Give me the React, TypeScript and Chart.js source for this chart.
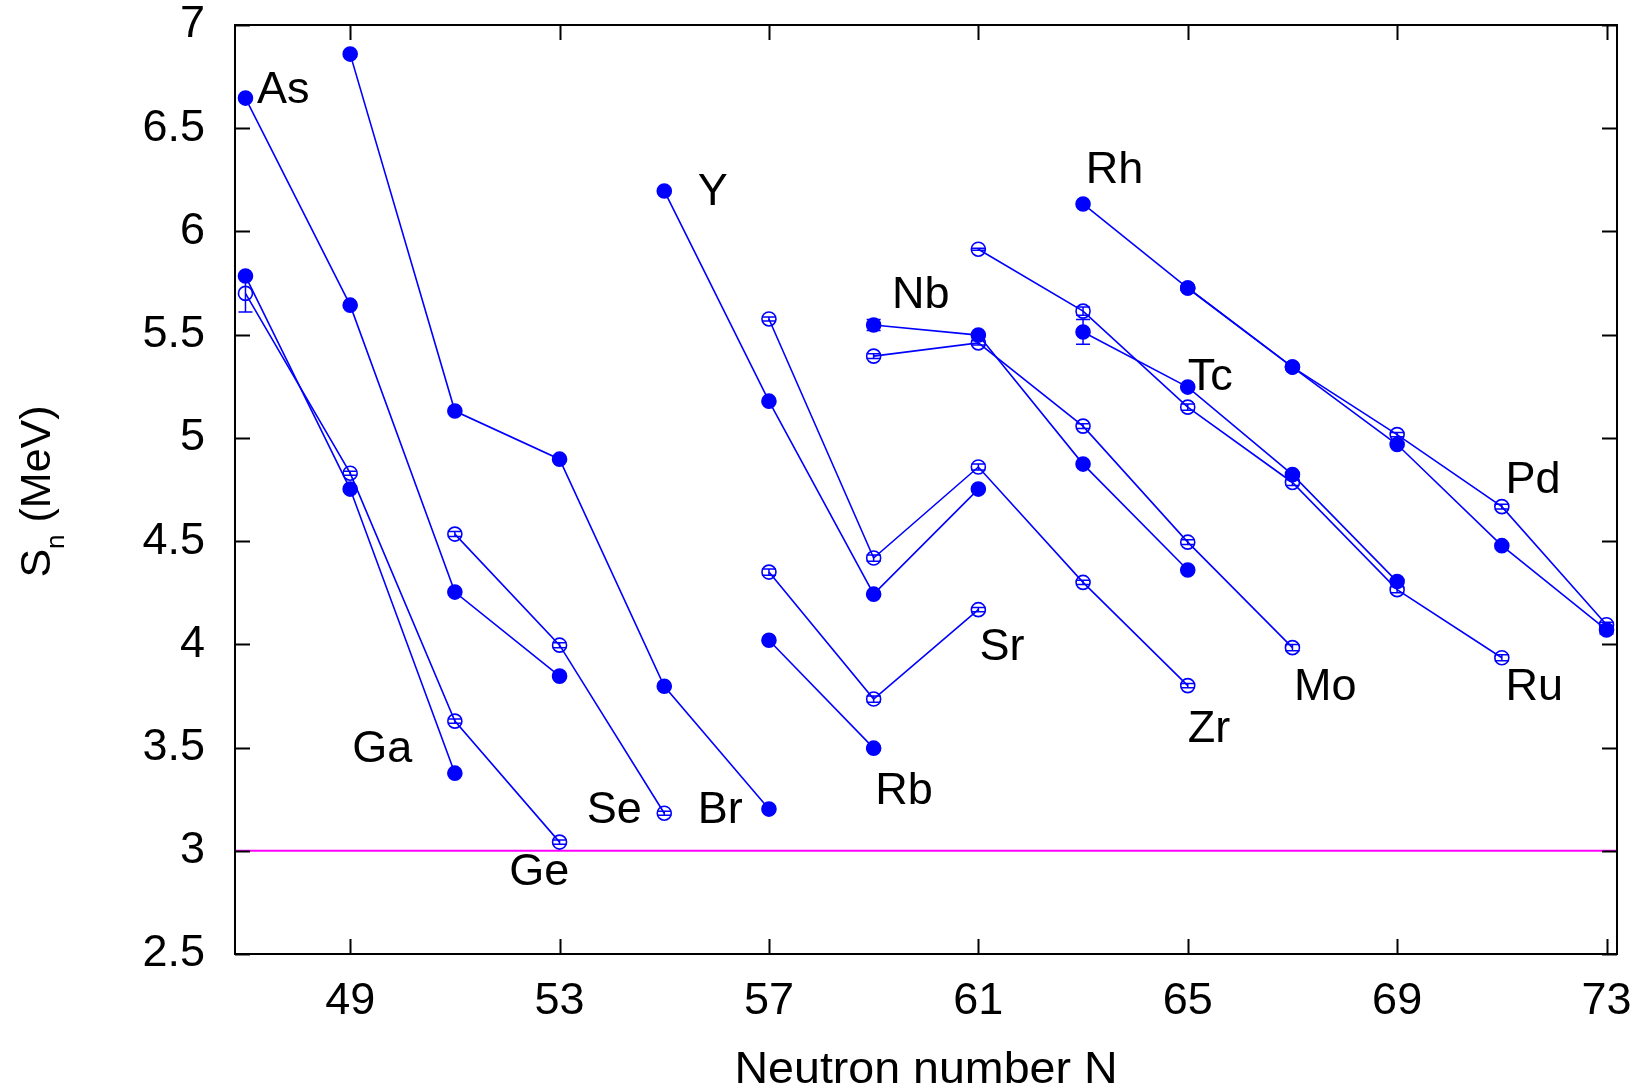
import React, { useEffect, useRef } from 'react';
import { Chart, registerables } from 'chart.js';

Chart.register(...registerables);

// ---- axes ----
const X_MIN = 46.8;
const X_MAX = 73.2;
const Y_MIN = 2.5;
const Y_MAX = 7;
const xTickValues = [49, 53, 57, 61, 65, 69, 73];
const yTickValues = [2.5, 3, 3.5, 4, 4.5, 5, 5.5, 6, 6.5, 7];
const thresholdS = 3.0;

// ---- series: neutron number N, S_n (MeV), error (MeV) ----
// filled symbols
const asN = [47, 49, 51, 53];
const asS = [6.646, 5.643, 4.253, 3.846];
const asErr = [0.005, 0.005, 0.005, 0.005];

const gaN = [47, 49, 51];
const gaS = [5.784, 4.752, 3.376];
const gaErr = [0.005, 0.005, 0.005];

const brN = [49, 51, 53, 55, 57];
const brS = [6.859, 5.130, 4.897, 3.797, 3.202];
const brErr = [0.01, 0.005, 0.005, 0.005, 0.005];

const yN = [55, 57, 59, 61];
const yS = [6.196, 5.178, 4.243, 4.752];
const yErr = [0.01, 0.005, 0.005, 0.005];

const rbN = [57, 59];
const rbS = [4.020, 3.497];
const rbErr = [0.005, 0.005];

const nbN = [59, 61, 63, 65];
const nbS = [5.547, 5.498, 4.873, 4.360];
const nbErr = [0.027, 0.005, 0.005, 0.005];

const tcN = [63, 65, 67, 69];
const tcS = [5.513, 5.246, 4.822, 4.304];
const tcErr = [0.06, 0.005, 0.01, 0.01];

const rhN = [63, 65, 67, 69, 71, 73];
const rhS = [6.133, 5.726, 5.343, 4.968, 4.478, 4.070];
const rhErr = [0.01, 0.01, 0.01, 0.01, 0.01, 0.02];

// open symbols
const geN = [47, 49, 51, 53];
const geS = [5.700, 4.829, 3.628, 3.042];
const geErr = [0.09, 0.01, 0.01, 0.01];

const seN = [51, 53, 55];
const seS = [4.534, 3.996, 3.182];
const seErr = [0.012, 0.012, 0.01];

const srN = [57, 59, 61];
const srS = [4.350, 3.735, 4.168];
const srErr = [0.015, 0.015, 0.01];

const zrN = [57, 59, 61, 63, 65];
const zrS = [5.576, 4.418, 4.859, 4.300, 3.800];
const zrErr = [0.01, 0.015, 0.015, 0.01, 0.01];

const moN = [59, 61, 63, 65, 67];
const moS = [5.396, 5.460, 5.057, 4.495, 3.984];
const moErr = [0.012, 0.01, 0.012, 0.012, 0.015];

const ruN = [61, 63, 65, 67, 69, 71];
const ruS = [5.914, 5.614, 5.149, 4.784, 4.265, 3.935];
const ruErr = [0.005, 0.02, 0.015, 0.015, 0.015, 0.015];

const pdN = [65, 67, 69, 71, 73];
const pdS = [5.726, 5.343, 5.016, 4.667, 4.095];
const pdErr = [0.01, 0.01, 0.01, 0.012, 0.012];

// ---- element labels (text, anchor N, anchor S at baseline) ----
const labelTexts = ['As', 'Ga', 'Ge', 'Se', 'Br', 'Y', 'Rb', 'Sr', 'Nb', 'Zr', 'Rh', 'Tc', 'Mo', 'Pd', 'Ru'];
const labelN = [47.22, 49.04, 52.04, 53.52, 55.64, 55.64, 59.03, 61.02, 59.35, 65.0, 63.05, 65.0, 67.03, 71.07, 71.07];
const labelS = [6.622, 3.429, 2.833, 3.134, 3.134, 6.128, 3.226, 3.923, 5.629, 3.526, 6.234, 5.232, 3.73, 4.733, 3.73];

const xTitle = 'Neutron number N';
const yTitleMain = 'S';
const yTitleSub = 'n';
const yTitleRest = ' (MeV)';

const FONT = '"Liberation Sans", Arial, Helvetica, sans-serif';
const BLUE = '#0000ff';

type Series = { name: string; n: number[]; s: number[]; err: number[]; filled: boolean };

const seriesList: Series[] = [
  { name: 'As', n: asN, s: asS, err: asErr, filled: true },
  { name: 'Ga', n: gaN, s: gaS, err: gaErr, filled: true },
  { name: 'Br', n: brN, s: brS, err: brErr, filled: true },
  { name: 'Y', n: yN, s: yS, err: yErr, filled: true },
  { name: 'Rb', n: rbN, s: rbS, err: rbErr, filled: true },
  { name: 'Nb', n: nbN, s: nbS, err: nbErr, filled: true },
  { name: 'Tc', n: tcN, s: tcS, err: tcErr, filled: true },
  { name: 'Rh', n: rhN, s: rhS, err: rhErr, filled: true },
  { name: 'Ge', n: geN, s: geS, err: geErr, filled: false },
  { name: 'Se', n: seN, s: seS, err: seErr, filled: false },
  { name: 'Sr', n: srN, s: srS, err: srErr, filled: false },
  { name: 'Zr', n: zrN, s: zrS, err: zrErr, filled: false },
  { name: 'Mo', n: moN, s: moS, err: moErr, filled: false },
  { name: 'Ru', n: ruN, s: ruS, err: ruErr, filled: false },
  { name: 'Pd', n: pdN, s: pdS, err: pdErr, filled: false },
];

const framePlugin = {
  id: 'frameAndText',
  afterDatasetsDraw(chart: any) {
    const { ctx, scales } = chart;
    const x = scales.x;
    const y = scales.y;
    ctx.save();
    ctx.strokeStyle = BLUE;
    ctx.lineWidth = 1.5;
    chart.data.datasets.forEach((ds: any) => {
      if (!ds.errors) return;
      ds.data.forEach((p: any, i: number) => {
        const e = ds.errors[i];
        const px = x.getPixelForValue(p.x);
        const y1 = y.getPixelForValue(p.y - e);
        const y2 = y.getPixelForValue(p.y + e);
        ctx.beginPath();
        ctx.moveTo(px, y1);
        ctx.lineTo(px, y2);
        ctx.moveTo(px - 7, y1);
        ctx.lineTo(px + 7, y1);
        ctx.moveTo(px - 7, y2);
        ctx.lineTo(px + 7, y2);
        ctx.stroke();
      });
    });
    ctx.restore();
  },
  afterDraw(chart: any) {
    const { ctx, chartArea, scales } = chart;
    const { left, right, top, bottom } = chartArea;
    const x = scales.x;
    const y = scales.y;
    ctx.save();
    // frame
    ctx.strokeStyle = '#000';
    ctx.lineWidth = 2;
    ctx.strokeRect(left, top, right - left, bottom - top);
    const tl = 15;
    ctx.beginPath();
    xTickValues.forEach((v) => {
      const px = Math.round(x.getPixelForValue(v)) + 0.5;
      ctx.moveTo(px, bottom);
      ctx.lineTo(px, bottom - tl);
      ctx.moveTo(px, top);
      ctx.lineTo(px, top + tl);
    });
    yTickValues.forEach((v) => {
      const py = Math.round(y.getPixelForValue(v)) + 0.5;
      ctx.moveTo(left, py);
      ctx.lineTo(left + tl, py);
      ctx.moveTo(right, py);
      ctx.lineTo(right - tl, py);
    });
    ctx.stroke();

    // element labels
    ctx.fillStyle = '#000';
    ctx.font = `45px ${FONT}`;
    ctx.textAlign = 'left';
    ctx.textBaseline = 'alphabetic';
    labelTexts.forEach((t, i) => {
      ctx.fillText(t, x.getPixelForValue(labelN[i]), y.getPixelForValue(labelS[i]));
    });

    // x title
    ctx.font = `44px ${FONT}`;
    const w = ctx.measureText(xTitle).width;
    const target = 383;
    const cx = (left + right) / 2;
    ctx.save();
    ctx.translate(cx, 1083);
    ctx.scale(target / w, 1);
    ctx.textAlign = 'center';
    ctx.fillText(xTitle, 0, 0);
    ctx.restore();

    // y title (rotated with subscript)
    const mainFont = `43px ${FONT}`;
    const subFont = `26px ${FONT}`;
    ctx.font = mainFont;
    const wS = ctx.measureText(yTitleMain).width;
    const wRest = ctx.measureText(yTitleRest).width;
    ctx.font = subFont;
    const wSub = ctx.measureText(yTitleSub).width;
    const total = wS + wSub + wRest;
    const cy = (top + bottom) / 2 + 2;
    ctx.save();
    ctx.translate(50, cy);
    ctx.rotate(-Math.PI / 2);
    ctx.textAlign = 'left';
    let pos = -total / 2;
    ctx.font = mainFont;
    ctx.fillText(yTitleMain, pos, 0);
    pos += wS;
    ctx.font = subFont;
    ctx.fillText(yTitleSub, pos, 14);
    pos += wSub;
    ctx.font = mainFont;
    ctx.fillText(yTitleRest, pos, 0);
    ctx.restore();

    ctx.restore();
  },
};

export default function App() {
  const ref = useRef<HTMLCanvasElement | null>(null);

  useEffect(() => {
    document.body.style.margin = '0';
    const canvas = ref.current;
    if (!canvas) return;

    const datasets: any[] = seriesList.map((s) => ({
      label: s.name,
      data: s.n.map((n, i) => ({ x: n, y: s.s[i] })),
      errors: s.err,
      borderColor: BLUE,
      borderWidth: 1.6,
      pointRadius: 7,
      pointHoverRadius: 7,
      pointBorderWidth: 1.6,
      pointBorderColor: BLUE,
      pointBackgroundColor: s.filled ? BLUE : 'rgba(0,0,0,0)',
      showLine: true,
      fill: false,
      tension: 0,
    }));
    datasets.push({
      label: 'threshold',
      data: [
        { x: X_MIN, y: thresholdS },
        { x: X_MAX, y: thresholdS },
      ],
      borderColor: '#ff00ff',
      borderWidth: 2,
      pointRadius: 0,
      showLine: true,
      fill: false,
    });

    const chart = new Chart(canvas, {
      type: 'line',
      data: { datasets },
      options: {
        animation: false,
        responsive: false,
        devicePixelRatio: 1,
        layout: { padding: { top: 25, right: 31, left: 0, bottom: 0 } },
        plugins: {
          legend: { display: false },
          tooltip: { enabled: false },
        },
        events: [],
        scales: {
          x: {
            type: 'linear',
            min: X_MIN,
            max: X_MAX,
            grid: { display: false, drawTicks: false },
            border: { display: false },
            afterBuildTicks: (scale: any) => {
              scale.ticks = xTickValues.map((v) => ({ value: v }));
            },
            afterFit: (scale: any) => {
              scale.height = 136;
              scale.paddingLeft = 0;
              scale.paddingRight = 0;
            },
            ticks: {
              autoSkip: false,
              maxRotation: 0,
              padding: 21,
              color: '#000',
              font: { family: FONT, size: 45 },
              callback: (v: any) => String(v),
            },
          },
          y: {
            type: 'linear',
            min: Y_MIN,
            max: Y_MAX,
            grid: { display: false, drawTicks: false },
            border: { display: false },
            afterBuildTicks: (scale: any) => {
              scale.ticks = yTickValues.map((v) => ({ value: v }));
            },
            afterFit: (scale: any) => {
              scale.width = 235;
              scale.paddingTop = 0;
              scale.paddingBottom = 0;
            },
            ticks: {
              autoSkip: false,
              padding: 30,
              color: '#000',
              font: { family: FONT, size: 45 },
              callback: (v: any) => String(v),
            },
          },
        },
      },
      plugins: [framePlugin],
    } as any);

    return () => chart.destroy();
  }, []);

  return (
    <div style={{ width: 1648, height: 1090, background: '#fff' }}>
      <canvas ref={ref} width={1648} height={1090} style={{ display: 'block' }} />
    </div>
  );
}
